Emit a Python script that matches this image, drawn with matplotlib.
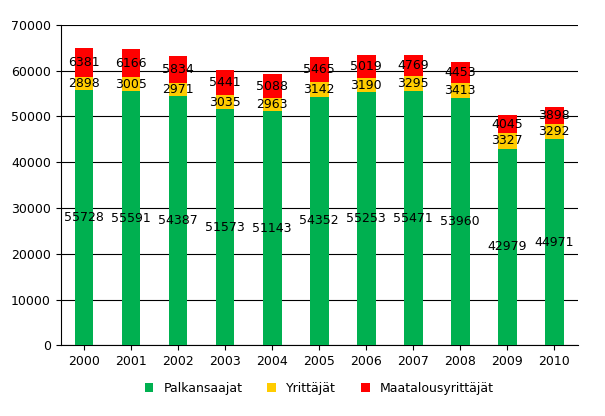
import numpy as np
import matplotlib.pyplot as plt

years = ["2000", "2001", "2002", "2003", "2004", "2005", "2006", "2007", "2008", "2009", "2010"]
palkansaajat = [55728, 55591, 54387, 51573, 51143, 54352, 55253, 55471, 53960, 42979, 44971]
yrittajat = [2898, 3005, 2971, 3035, 2963, 3142, 3190, 3295, 3413, 3327, 3292]
maatalous = [6381, 6166, 5834, 5441, 5088, 5465, 5019, 4769, 4453, 4045, 3898]

fig = plt.figure(figsize=(6.05, 4.16), dpi=100)
ax = fig.add_axes([0.1, 0.17, 0.855, 0.77])
x = np.arange(len(years))
w = 0.4
p = np.array(palkansaajat)
y = np.array(yrittajat)
m = np.array(maatalous)

ax.bar(x, p, w, color="#00b050", label="Palkansaajat", zorder=3)
ax.bar(x, y, w, bottom=p, color="#ffcc00", label="Yrittäjät", zorder=3)
ax.bar(x, m, w, bottom=p + y, color="#ff0000", label="Maatalousyrittäjät", zorder=3)

for i in range(len(years)):
    ax.text(x[i], p[i] / 2, str(p[i]), ha="center", va="center", fontsize=9, zorder=4)
    ax.text(x[i], p[i] + y[i] / 2, str(y[i]), ha="center", va="center", fontsize=9, zorder=4)
    ax.text(x[i], p[i] + y[i] + m[i] / 2, str(m[i]), ha="center", va="center", fontsize=9, zorder=4)

ax.set_ylim(0, 70000)
ax.set_xlim(-0.5, len(years) - 0.5)
ax.set_yticks(range(0, 70001, 10000))
ax.set_xticks(x)
ax.set_xticklabels(years)
ax.tick_params(labelsize=9)
ax.yaxis.grid(True, color="black", linewidth=0.8, zorder=0)
for s in ["top", "right"]:
    ax.spines[s].set_visible(False)
ax.legend(loc="upper center", bbox_to_anchor=(0.5, -0.08), ncol=3, frameon=False,
          fontsize=9, handlelength=0.7, handleheight=0.7)
fig.savefig("out.png")
